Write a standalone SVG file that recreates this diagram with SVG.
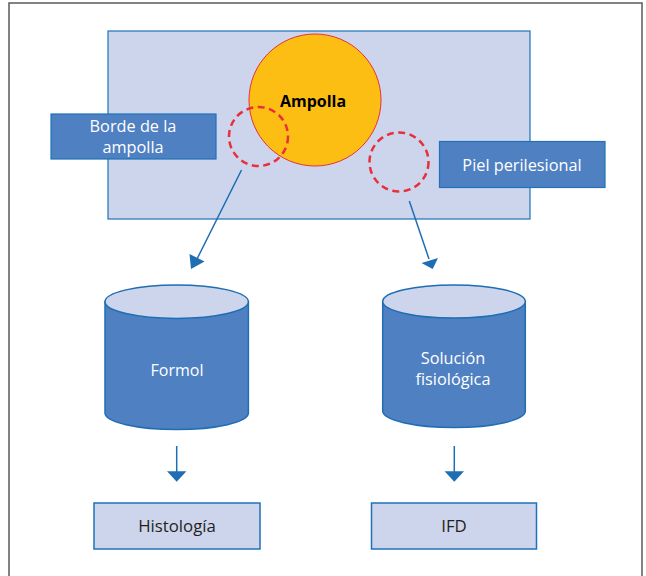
<svg xmlns="http://www.w3.org/2000/svg" width="646" height="576" viewBox="0 0 646 576">
<style>
.frame{fill:#fff;stroke:#5a5a5a;stroke-width:1.5}
.bg{fill:#cdd5ed;stroke:#1f72b8;stroke-width:1.2}
.lbl{fill:#4f80c2;stroke:#1f72b8;stroke-width:1.2}
.res{fill:#cdd5ed;stroke:#1f72b8;stroke-width:1.5}
.cyl{fill:#4f80c2;stroke:#1f6db3;stroke-width:1.5}
.top{fill:#cdd5ed;stroke:#1f6db3;stroke-width:1.5}
.dash{fill:none;stroke:#e8303a;stroke-width:2.5;stroke-dasharray:7 4.5}
.conn{stroke:#1f6db3;stroke-width:1.5;fill:none}
.head{fill:#1f6db3}
.w{font-family:"Open Sans","Liberation Sans",sans-serif;font-size:16.3px;fill:#fff;text-anchor:middle}
.d{font-family:"Open Sans","Liberation Sans",sans-serif;font-size:16.8px;fill:#231f20;text-anchor:middle}
</style>
<rect class="frame" x="9" y="3" width="633" height="580"/>
<g id="skin">
<rect class="bg" x="108" y="31" width="422" height="188"/>
</g>
<g id="ampolla">
<circle cx="315" cy="100" r="66" fill="#fdbe14" stroke="#e8303a" stroke-width="1"/>
<text x="313" y="107" style="font-family:'Open Sans','Liberation Sans',sans-serif;font-size:16px;font-weight:bold;fill:#000;text-anchor:middle">Ampolla</text>
</g>
<g id="sample-borde">
<circle class="dash" cx="258.5" cy="136.5" r="29.5"/>
</g>
<g id="sample-piel">
<circle class="dash" cx="399" cy="162" r="29.5"/>
</g>
<g id="borde">
<rect class="lbl" x="51" y="114" width="165" height="45"/>
<text class="w" x="133" y="132">Borde de la</text>
<text class="w" x="133" y="153">ampolla</text>
</g>
<g id="piel">
<rect class="lbl" x="439.5" y="141.5" width="165.5" height="46"/>
<text class="w" x="522" y="171">Piel perilesional</text>
</g>
<g id="formol">
<path class="cyl" d="M105,301.7 V413 A71.7,16.5 0 0 0 248.4,413 V301.7 Z"/>
<ellipse class="top" cx="176.7" cy="301.7" rx="71.7" ry="16.7"/>
<text class="w" x="177" y="375.5" style="font-size:16px">Formol</text>
</g>
<g id="solucion">
<path class="cyl" d="M382.7,301.5 V411 A71.3,16.5 0 0 0 525.3,411 V301.5 Z"/>
<ellipse class="top" cx="454" cy="301.5" rx="71.3" ry="16.5"/>
<text class="w" x="453" y="364.3" style="font-size:16.3px">Solución</text>
<text class="w" x="453" y="384.5" style="font-size:16.3px">fisiológica</text>
</g>
<g id="histologia">
<rect class="res" x="94" y="503" width="166" height="46"/>
<text class="d" x="177" y="532">Histología</text>
</g>
<g id="ifd">
<rect class="res" x="371.5" y="503" width="165" height="46"/>
<text class="d" x="454" y="532">IFD</text>
</g>
<g id="connectors">
<line class="conn" x1="241.5" y1="170" x2="197" y2="259"/>
<polygon class="head" points="191,269 189.5,254 204.5,261.5"/>
<line class="conn" x1="409.3" y1="201" x2="429" y2="259"/>
<polygon class="head" points="432.7,269 421.5,263 438,258"/>
<line class="conn" x1="176.7" y1="446" x2="176.7" y2="472"/>
<polygon class="head" points="167,471.3 186.4,471.3 176.7,481.7"/>
<line class="conn" x1="454.3" y1="446" x2="454.3" y2="472"/>
<polygon class="head" points="444.6,471.3 464,471.3 454.3,481.7"/>
</g>
</svg>
